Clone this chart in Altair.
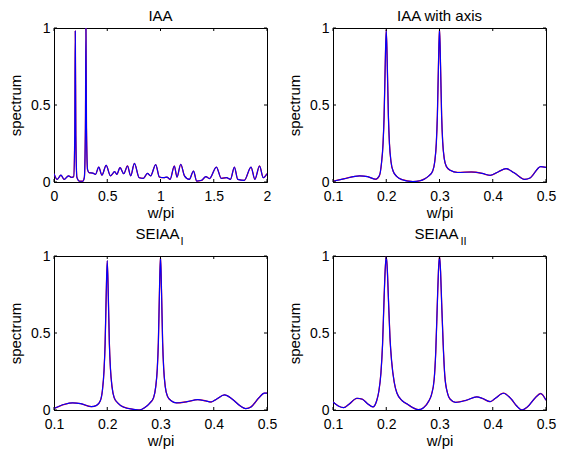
import altair as alt
import pandas as pd

# ---- data ----
iaa_w = [0, 0.03, 0.065, 0.095, 0.136, 0.165, 0.185, 0.195, 0.2, 0.205, 0.215, 0.24, 0.27, 0.285,
         0.295, 0.3, 0.305, 0.315, 0.33, 0.365, 0.39, 0.42, 0.45, 0.49, 0.53, 0.57, 0.59, 0.62,
         0.655, 0.69, 0.72, 0.755, 0.8, 0.84, 0.877, 0.907, 0.955, 0.99, 1.03, 1.06, 1.09, 1.13,
         1.155, 1.19, 1.225, 1.27, 1.31, 1.34, 1.386, 1.426, 1.46, 1.525, 1.57, 1.62, 1.657,
         1.694, 1.725, 1.787, 1.85, 1.886, 1.93, 1.965, 2.0]
iaa_s = [0.054, 0.017, 0.045, 0.017, 0.04, 0.03, 0.035, 0.3, 0.98, 0.3, 0.03, 0.005, 0.005, 0.03,
         0.35, 1.0, 0.35, 0.08, 0.06, 0.058, 0.05, 0.097, 0.045, 0.108, 0.04, 0.067, 0.05, 0.093,
         0.054, 0.104, 0.04, 0.121, 0.028, 0.024, 0.056, 0.04, 0.113, 0.032, 0.028, 0.032, 0.017, 0.104,
         0.032, 0.115, 0.04, 0.017, 0.071, 0.006, 0.011, 0.035, 0.022, 0.097, 0.024, 0.028, 0.017,
         0.097, 0.017, 0.011, 0.097, 0.017, 0.104, 0.028, 0.054]

axis_w = [0.1, 0.12, 0.15, 0.165, 0.18, 0.187, 0.191, 0.194, 0.196, 0.198, 0.2, 0.202, 0.204, 0.206,
          0.209, 0.213, 0.22, 0.23, 0.25, 0.263, 0.272, 0.28, 0.287, 0.291, 0.294, 0.296, 0.298, 0.3,
          0.302, 0.304, 0.306, 0.309, 0.313, 0.32, 0.334, 0.36, 0.38, 0.395, 0.41, 0.425, 0.44, 0.46,
          0.47, 0.49, 0.5]
axis_s = [0.005, 0.02, 0.04, 0.035, 0.018, 0.04, 0.12, 0.25, 0.43, 0.75, 0.99, 0.75, 0.43, 0.25,
          0.13, 0.07, 0.035, 0.015, 0.003, 0.008, 0.02, 0.04, 0.07, 0.13, 0.25, 0.43, 0.75, 1.0,
          0.75, 0.43, 0.26, 0.15, 0.1, 0.076, 0.062, 0.065, 0.056, 0.043, 0.065, 0.087, 0.06, 0.017,
          0.026, 0.1, 0.095]

sei1_w = [0.1, 0.12, 0.135, 0.15, 0.17, 0.18, 0.187, 0.191, 0.194, 0.196, 0.198, 0.2, 0.202, 0.204,
          0.206, 0.209, 0.213, 0.22, 0.23, 0.25, 0.26, 0.27, 0.28, 0.287, 0.291, 0.294, 0.296, 0.298,
          0.3, 0.302, 0.304, 0.306, 0.309, 0.313, 0.32, 0.33, 0.35, 0.37, 0.385, 0.395, 0.405, 0.42,
          0.435, 0.45, 0.46, 0.47, 0.485, 0.495, 0.5]
sei1_s = [0.01, 0.037, 0.046, 0.041, 0.022, 0.03, 0.06, 0.13, 0.26, 0.43, 0.74, 0.97, 0.74, 0.43,
          0.27, 0.15, 0.08, 0.045, 0.02, 0.004, 0.0, 0.015, 0.045, 0.08, 0.15, 0.27, 0.44, 0.76,
          1.0, 0.76, 0.44, 0.27, 0.15, 0.09, 0.06, 0.046, 0.054, 0.067, 0.059, 0.052, 0.07, 0.098,
          0.07, 0.026, 0.009, 0.02, 0.08, 0.11, 0.11]

sei2_w = [0.1, 0.11, 0.12, 0.13, 0.145, 0.155, 0.165, 0.175, 0.182, 0.186, 0.19, 0.193, 0.196, 0.198,
          0.2, 0.202, 0.204, 0.207, 0.21, 0.215, 0.22, 0.23, 0.24, 0.25, 0.26, 0.27, 0.28, 0.285,
          0.29, 0.293, 0.296, 0.298, 0.3, 0.302, 0.304, 0.307, 0.31, 0.315, 0.32, 0.33, 0.35, 0.37,
          0.38, 0.395, 0.405, 0.42, 0.435, 0.445, 0.455, 0.465, 0.48, 0.49, 0.5]
sei2_s = [0.052, 0.026, 0.015, 0.037, 0.076, 0.07, 0.041, 0.02, 0.06, 0.12, 0.24, 0.42, 0.73, 0.91,
          1.0, 0.91, 0.73, 0.47, 0.32, 0.18, 0.11, 0.06, 0.037, 0.015, 0.002, 0.015, 0.059, 0.1,
          0.2, 0.38, 0.7, 0.9, 1.0, 0.9, 0.7, 0.42, 0.22, 0.11, 0.07, 0.05, 0.063, 0.085,
          0.076, 0.054, 0.076, 0.109, 0.07, 0.026, 0.0, 0.02, 0.08, 0.107, 0.063]

y_ticks = [0, 0.5, 1]
x_ticks_full = [0, 0.5, 1, 1.5, 2]
x_ticks_zoom = [0.1, 0.2, 0.3, 0.4, 0.5]

W, H = 213, 154
FONT = "Liberation Sans"


def panel(ws, ss, title, xdom, xticks, sub=None, title_x=W / 2, title_y=-12, sub_x=0, sub_y=-14):
    df = pd.DataFrame({"w": ws, "blue": ss, "red": ss})
    xscale = alt.Scale(domain=xdom, nice=False, zero=False)
    xaxis = alt.Axis(values=xticks, format="~g", title="w/pi", ticks=False, labelFlush=False,
                     grid=False, labelPadding=7, titlePadding=2)
    yscale = alt.Scale(domain=[0, 1], nice=False, zero=False)
    yaxis = alt.Axis(values=y_ticks, format="~g", title="spectrum", ticks=False, grid=False,
                     labelFlush=False, labelPadding=4, titlePadding=7)
    base = alt.Chart(df)
    red = base.mark_line(color="#ff0000", strokeWidth=1.3, clip=True, interpolate="monotone").encode(
        x=alt.X("w:Q", scale=xscale, axis=xaxis), y=alt.Y("red:Q", scale=yscale, axis=yaxis))
    blue = base.mark_line(color="#0000ff", strokeWidth=1.15, clip=True, interpolate="monotone").encode(
        x=alt.X("w:Q", scale=xscale, axis=xaxis), y=alt.Y("blue:Q", scale=yscale, axis=yaxis))

    tx = alt.Chart(pd.DataFrame({"t": xticks}))
    ty = alt.Chart(pd.DataFrame({"v": y_ticks}))
    tick_style = dict(color="black", strokeWidth=1)
    xb = tx.mark_rule(**tick_style).encode(x=alt.X("t:Q", scale=xscale, axis=xaxis),
                                           y=alt.value(H), y2=alt.value(H - 3))
    xt = tx.mark_rule(**tick_style).encode(x=alt.X("t:Q", scale=xscale, axis=xaxis),
                                           y=alt.value(0), y2=alt.value(3))
    yl = ty.mark_rule(**tick_style).encode(y=alt.Y("v:Q", scale=yscale, axis=yaxis),
                                           x=alt.value(0), x2=alt.value(3))
    yr = ty.mark_rule(**tick_style).encode(y=alt.Y("v:Q", scale=yscale, axis=yaxis),
                                           x=alt.value(W), x2=alt.value(W - 3))

    tt = alt.Chart(pd.DataFrame({"s": [title]})).mark_text(
        font=FONT, fontSize=15, color="black", align="center", baseline="middle").encode(
        text="s:N", x=alt.value(title_x), y=alt.value(title_y))
    layers = [red, blue, xb, xt, yl, yr, tt]
    if sub:
        st = alt.Chart(pd.DataFrame({"s": [sub]})).mark_text(
            font=FONT, fontSize=11, color="black", align="left", baseline="middle").encode(
            text="s:N", x=alt.value(sub_x), y=alt.value(sub_y))
        layers.append(st)
    return alt.layer(*layers).properties(width=W, height=H)


p1 = panel(iaa_w, iaa_s, "IAA", [0, 2], x_ticks_full)
p2 = panel(axis_w, axis_s, "IAA with axis", [0.1, 0.5], x_ticks_zoom)
p3 = panel(sei1_w, sei1_s, "SEIAA", [0.1, 0.5], x_ticks_zoom, sub="I",
           title_x=W / 2 - 3, title_y=-22, sub_x=W / 2 + 20)
p4 = panel(sei2_w, sei2_s, "SEIAA", [0.1, 0.5], x_ticks_zoom, sub="II",
           title_x=W / 2 - 3, title_y=-22, sub_x=W / 2 + 21)

chart = alt.concat(p1, p2, p3, p4, columns=2, spacing={"row": 74, "column": 66},
                   bounds="flush").properties(padding=0, background="white").configure_view(
    stroke="black", strokeWidth=1).configure_axis(
    labelFont=FONT, titleFont=FONT, labelFontSize=14, titleFontSize=15,
    labelColor="black", titleColor="black", titleFontWeight="normal",
    domainColor="black", domainWidth=1)

chart.save("out.html", embed_options={"renderer": "svg", "actions": False})
